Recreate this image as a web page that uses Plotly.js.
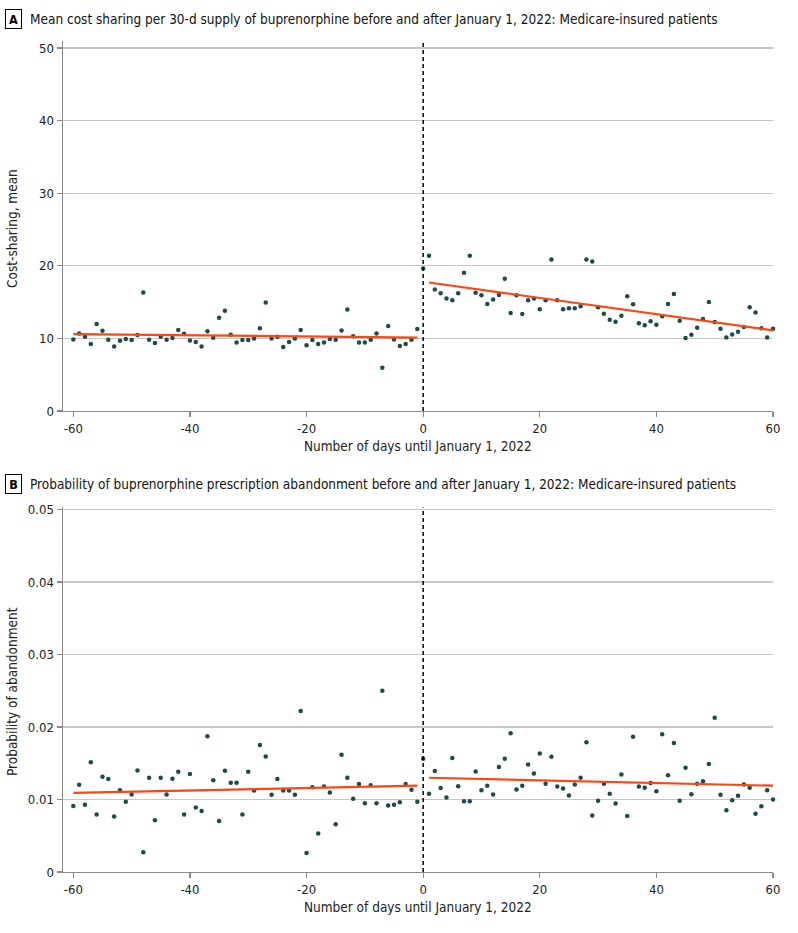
<!DOCTYPE html>
<html>
<head>
<meta charset="utf-8">
<script src="https://cdn.plot.ly/plotly-3.0.1.min.js"></script>
<style>html,body{margin:0;padding:0;background:#fff;}#chart{width:798px;height:933px;}</style>
</head>
<body>
<div id="chart"></div>
<script>
// Days relative to January 1, 2022
var days = [];
for (var d = -60; d <= 60; d++) days.push(d);

// Panel A: mean cost sharing per day
var costPre = [9.86, 10.69, 10.23, 9.22, 11.97, 11.06, 9.82, 8.9, 9.68, 9.9, 9.77, 10.46, 16.33, 9.82, 9.36, 10.23, 9.82, 10.05, 11.15, 10.64, 9.72, 9.5, 8.9, 11.0, 10.09, 12.84, 13.81, 10.5, 9.45, 9.77,
  9.77, 10.0, 11.38, 14.95, 10.0, 10.23, 8.81, 9.5, 10.0, 11.15, 9.04, 9.77, 9.22, 9.45, 9.9, 9.82, 11.1, 13.99, 10.28, 9.45, 9.45, 9.82, 10.69, 5.96, 11.7, 9.86, 8.94, 9.22, 9.82, 11.28, 19.63];
var costPost = [21.38, 16.73, 16.22, 15.48, 15.25, 16.22, 19.03, 21.38, 16.27, 15.94, 14.75, 15.35, 15.99, 18.2, 13.5, 15.94, 13.36, 15.25, 15.48, 14.0, 15.25, 20.88, 15.25, 14.0, 14.15, 14.15, 14.42, 20.88, 20.6, 14.29,
  13.41, 12.58, 12.3, 13.13, 15.8, 14.7, 12.07, 11.8, 12.35, 11.89, 13.04, 14.75, 16.13, 12.44, 10.05, 10.5, 11.47, 12.67, 15.02, 12.26, 11.34, 10.14, 10.55, 10.92, 11.57, 14.29, 13.55, 11.38, 10.14, 11.34];
var costValues = costPre.concat(costPost);

// Panel B: probability of abandonment per day
var abPre = [0.00912, 0.01203, 0.00926, 0.01512, 0.00793, 0.01313, 0.01281, 0.00765, 0.01129, 0.00968, 0.01069, 0.01401, 0.00272, 0.0130, 0.00714, 0.0130, 0.01069, 0.01286, 0.01382, 0.00793, 0.0135, 0.00889, 0.00843, 0.01871, 0.01267, 0.00705, 0.01396, 0.0123, 0.0123, 0.00793,
  0.01382, 0.01124, 0.01751, 0.01594, 0.01065, 0.01281, 0.01124, 0.01124, 0.01065, 0.02221, 0.00263, 0.0117, 0.0053, 0.0118, 0.01097, 0.00659, 0.01618, 0.0130, 0.01009, 0.01212, 0.00949, 0.01198, 0.00949, 0.0250, 0.00917, 0.00926, 0.00963, 0.01212, 0.01134, 0.00968, 0.01562];
var abPost = [0.01078, 0.01392, 0.01157, 0.01028, 0.01571, 0.01184, 0.00977, 0.00977, 0.01387, 0.01129, 0.01189, 0.01069, 0.01447, 0.01562, 0.01912, 0.01138, 0.01189, 0.01484, 0.01359, 0.01636, 0.01217, 0.0159, 0.0118, 0.01152, 0.01055, 0.01207, 0.013, 0.01788, 0.00779, 0.00982,
  0.01217, 0.01078, 0.00945, 0.01346, 0.00774, 0.01866, 0.0118, 0.01161, 0.01226, 0.01115, 0.01899, 0.01336, 0.01779, 0.00982, 0.01438, 0.01074, 0.01217, 0.01253, 0.01488, 0.02129, 0.01065, 0.00853, 0.00991, 0.01051, 0.01207, 0.01161, 0.00802, 0.00908, 0.01129, 0.0100];
var abValues = abPre.concat(abPost);

// Fitted trend lines (endpoints)
var fitPreX = [-60, -1];
var fitPostX = [1, 60];
var fitCostPre = [10.6, 10.1];
var fitCostPost = [17.7, 11.1];
var fitAbPre = [0.0109, 0.0119];
var fitAbPost = [0.0130, 0.0119];

// Ticks
var xTickVals = [-60, -40, -20, 0, 20, 40, 60];
var xTickText = ['-60', '-40', '-20', '0', '20', '40', '60'];
var yTickValsA = [0, 10, 20, 30, 40, 50];
var yTickValsB = [0, 0.01, 0.02, 0.03, 0.04, 0.05];
var yTickTextB = ['0', '0.01', '0.02', '0.03', '0.04', '0.05'];

var titleA = 'Mean cost sharing per 30-d supply of buprenorphine before and after January 1, 2022: Medicare-insured patients';
var titleB = 'Probability of buprenorphine prescription abandonment before and after January 1, 2022: Medicare-insured patients';
var xTitle = 'Number of days until January 1, 2022';
var yTitleA = 'Cost-sharing, mean';
var yTitleB = 'Probability of abandonment';

var FONT = '"Liberation Sans Narrow", "DejaVu Sans Condensed", "Roboto Condensed", sans-serif';
var markerColor = '#1e4a4c';
var lineColor = '#ff4512';

var W = 798, H = 933;
function px(x) { return x / W; }
function py(y) { return 1 - y / H; }

var traces = [
  {x: days, y: costValues, type: 'scatter', mode: 'markers', xaxis: 'x', yaxis: 'y', cliponaxis: false,
   marker: {color: markerColor, size: 4.5}, hoverinfo: 'skip'},
  {x: fitPreX, y: fitCostPre, type: 'scatter', mode: 'lines', xaxis: 'x', yaxis: 'y',
   line: {color: lineColor, width: 2.2}},
  {x: fitPostX, y: fitCostPost, type: 'scatter', mode: 'lines', xaxis: 'x', yaxis: 'y',
   line: {color: lineColor, width: 2.2}},
  {x: days, y: abValues, type: 'scatter', mode: 'markers', xaxis: 'x2', yaxis: 'y2', cliponaxis: false,
   marker: {color: markerColor, size: 4.5}, hoverinfo: 'skip'},
  {x: fitPreX, y: fitAbPre, type: 'scatter', mode: 'lines', xaxis: 'x2', yaxis: 'y2',
   line: {color: lineColor, width: 2.2}},
  {x: fitPostX, y: fitAbPost, type: 'scatter', mode: 'lines', xaxis: 'x2', yaxis: 'y2',
   line: {color: lineColor, width: 2.2}}
];

var xCommon = {
  range: [-61.82, 60], tickvals: xTickVals, ticktext: xTickText,
  showgrid: false, zeroline: false, showline: true, linecolor: '#8a8a8a', linewidth: 1.2,
  ticks: 'outside', ticklen: 5, tickcolor: '#8a8a8a', tickwidth: 1.2,
  tickfont: {family: FONT, size: 13, color: '#222'}, fixedrange: true
};
var yCommon = {
  showgrid: true, gridcolor: '#c8c8c8', gridwidth: 1.2, zeroline: false,
  showline: true, linecolor: '#8a8a8a', linewidth: 1.2,
  ticks: 'outside', ticklen: 5, tickcolor: '#8a8a8a', tickwidth: 1.2,
  tickfont: {family: FONT, size: 13, color: '#222'}, fixedrange: true
};

var layout = {
  width: W, height: H,
  margin: {l: 0, r: 0, t: 0, b: 0},
  paper_bgcolor: '#fff', plot_bgcolor: '#fff',
  showlegend: false,
  font: {family: FONT, size: 13, color: '#222'},
  xaxis: Object.assign({}, xCommon, {domain: [px(62.7), px(773)], anchor: 'y',
    title: {text: xTitle, font: {family: FONT, size: 13.5, color: '#222'}, standoff: 6}}),
  yaxis: Object.assign({}, yCommon, {domain: [py(411), py(40.7)], anchor: 'x', range: [0, 51],
    tickvals: yTickValsA}),
  xaxis2: Object.assign({}, xCommon, {domain: [px(62.7), px(773)], anchor: 'y2',
    title: {text: xTitle, font: {family: FONT, size: 13.5, color: '#222'}, standoff: 6}}),
  yaxis2: Object.assign({}, yCommon, {domain: [py(872), py(507.3)], anchor: 'x2', range: [0, 0.0503],
    tickvals: yTickValsB, ticktext: yTickTextB}),
  shapes: [
    {type: 'line', xref: 'x', yref: 'y', x0: 0, x1: 0, y0: 0, y1: 51, line: {color: '#000', width: 1.5, dash: '4px,3px'}},
    {type: 'line', xref: 'x2', yref: 'y2', x0: 0, x1: 0, y0: 0, y1: 0.0503, line: {color: '#000', width: 1.5, dash: '4px,3px'}}
  ],
  annotations: [
    {text: '<b>A</b>', xref: 'paper', yref: 'paper', x: px(13), y: py(19), xanchor: 'center', yanchor: 'middle',
     showarrow: false, font: {family: FONT, size: 12.5, color: '#000'}, bordercolor: '#000', borderwidth: 1, borderpad: 1, width: 13, height: 16},
    {text: titleA, xref: 'paper', yref: 'paper', x: px(28), y: py(19), xanchor: 'left', yanchor: 'middle',
     showarrow: false, font: {family: FONT, size: 13.5, color: '#111'}},
    {text: '<b>B</b>', xref: 'paper', yref: 'paper', x: px(13), y: py(484), xanchor: 'center', yanchor: 'middle',
     showarrow: false, font: {family: FONT, size: 12.5, color: '#000'}, bordercolor: '#000', borderwidth: 1, borderpad: 1, width: 13, height: 16},
    {text: titleB, xref: 'paper', yref: 'paper', x: px(28), y: py(484), xanchor: 'left', yanchor: 'middle',
     showarrow: false, font: {family: FONT, size: 13.5, color: '#111'}},
    {text: yTitleA, xref: 'paper', yref: 'paper', x: px(12), y: py(229), xanchor: 'center', yanchor: 'middle',
     textangle: -90, showarrow: false, font: {family: FONT, size: 13.5, color: '#222'}},
    {text: yTitleB, xref: 'paper', yref: 'paper', x: px(12), y: py(692), xanchor: 'center', yanchor: 'middle',
     textangle: -90, showarrow: false, font: {family: FONT, size: 13.5, color: '#222'}}
  ]
};

Plotly.newPlot('chart', traces, layout, {staticPlot: true, displayModeBar: false});
</script>
</body>
</html>
